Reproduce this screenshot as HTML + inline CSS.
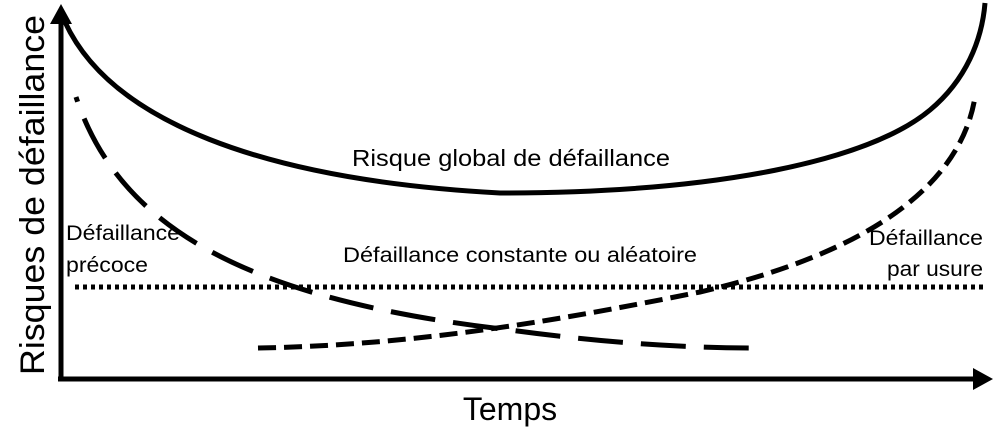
<!DOCTYPE html>
<html><head><meta charset="utf-8"><style>
html,body{margin:0;padding:0;background:#fff;}
svg{display:block;}
text{font-family:"Liberation Sans",sans-serif;fill:#000;}
</style></head><body>
<svg width="1000" height="434" viewBox="0 0 1000 434">
<!-- axes -->
<line x1="61" y1="380" x2="61" y2="22" stroke="#000" stroke-width="5"/>
<polygon points="61,4 50,24 72,24" fill="#000"/>
<line x1="58" y1="379" x2="975" y2="379" stroke="#000" stroke-width="5"/>
<polygon points="993,379 973,368 973,390" fill="#000"/>
<!-- solid global -->
<path d="M65,22 C110,120 260,180 500,193 C720,193 870,160 930,110 C966,80 982,40 985,3" fill="none" stroke="#000" stroke-width="5"/>
<!-- long dash early -->
<path d="M76,97 C120,230 250,300 510,330 C620,345 700,348 760,348" fill="none" stroke="#000" stroke-width="5" stroke-dasharray="45,18" stroke-dashoffset="40"/>
<!-- short dash wear -->
<path d="M258,348 C420,345 560,320 700,292 C860,255 960,190 975,97" fill="none" stroke="#000" stroke-width="5" stroke-dasharray="18,8"/>
<!-- dotted constant -->
<line x1="75" y1="287" x2="986" y2="287" stroke="#000" stroke-width="5" stroke-dasharray="4,4"/>
<!-- labels -->
<text x="511" y="166" font-size="23" text-anchor="middle" textLength="318" lengthAdjust="spacingAndGlyphs">Risque global de défaillance</text>
<text x="520" y="262" font-size="21" text-anchor="middle" textLength="354" lengthAdjust="spacingAndGlyphs">Défaillance constante ou aléatoire</text>
<text x="66" y="240" font-size="21" textLength="114" lengthAdjust="spacingAndGlyphs">Défaillance</text>
<text x="66" y="272" font-size="21" textLength="82" lengthAdjust="spacingAndGlyphs">précoce</text>
<text x="983" y="245" font-size="21" text-anchor="end" textLength="114" lengthAdjust="spacingAndGlyphs">Défaillance</text>
<text x="983" y="276" font-size="21" text-anchor="end" textLength="96" lengthAdjust="spacingAndGlyphs">par usure</text>
<text x="510" y="420" font-size="32" text-anchor="middle">Temps</text>
<text transform="translate(44,195) rotate(-90)" font-size="34" text-anchor="middle" textLength="360" lengthAdjust="spacingAndGlyphs">Risques de défaillance</text>
</svg>
</body></html>
